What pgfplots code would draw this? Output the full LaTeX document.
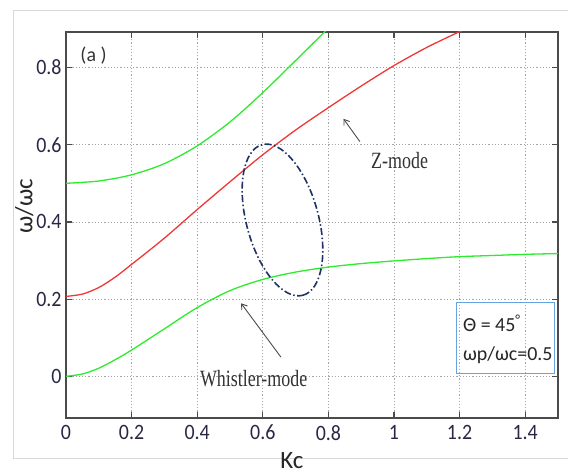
\documentclass[border=0pt]{standalone}
\usepackage{fontspec}
\setmainfont{Carlito}
\newfontfamily\tnr{Liberation Serif}
\usepackage{pgfplots}
\pgfplotsset{compat=1.18}
\usetikzlibrary{arrows.meta}
\definecolor{lgreen}{RGB}{45,235,45}
\definecolor{lred}{RGB}{240,55,55}
\definecolor{navy}{RGB}{30,50,100}
\definecolor{boxblue}{RGB}{100,165,225}
\definecolor{axgray}{RGB}{75,75,75}
\definecolor{ticktext}{RGB}{40,40,70}

\begin{document}
\begin{tikzpicture}
\useasboundingbox (-66bp,-56bp) rectangle (502bp,418bp);
\draw[black!15, line width=0.8bp] (-53bp,-40bp) rectangle (520bp,408bp);
\begin{axis}[
  at={(0,0)}, anchor=south west,
  scale only axis, width=492bp, height=386bp,
  xmin=0, xmax=1.5, ymin=-0.108, ymax=0.892,
  xtick={0,0.2,0.4,0.6,0.8,1,1.2,1.4},
  ytick={0,0.2,0.4,0.6,0.8},
  /pgf/number format/assume math mode=true,
  tick label style={font=\fontsize{20}{20}\selectfont, text=ticktext, yscale=1.1},
  xticklabel style={yshift=-3bp},
  yticklabel style={xshift=-1bp},
  axis line style={axgray, line width=1.2bp},
  tick style={axgray, line width=1.2bp},
  major tick length=6bp,
  tick align=inside,
  xtick pos=both, ytick pos=both,
  grid=major,
  major grid style={black!35, line width=0.8bp, dash pattern=on 1.2bp off 2bp},
  xlabel={Kc},
  ylabel={ω/ωc},
  label style={font=\fontsize{25}{25}\selectfont, text=black!85},
  xlabel style={at={(axis description cs:0.459,-0.131)}, anchor=base},
  ylabel style={at={(axis description cs:-0.085,0.548)}, anchor=center},
  clip=true,
]
% upper branch (green)
\addplot[lgreen, line width=1.3bp, smooth] coordinates {
  (0,0.500) (0.1,0.506) (0.2,0.522) (0.3,0.551) (0.4,0.597)
  (0.5,0.659) (0.6,0.735) (0.7,0.818) (0.8,0.902) (0.82,0.92)
};
% Z-mode (red)
\addplot[lred, line width=1.3bp, smooth] coordinates {
  (0,0.207) (0.05,0.213) (0.1,0.230) (0.15,0.257) (0.2,0.290) (0.3,0.358)
  (0.4,0.432) (0.5,0.504) (0.6,0.574) (0.7,0.638) (0.8,0.696)
  (0.9,0.752) (1.0,0.805) (1.1,0.852) (1.2,0.893) (1.25,0.912)
};
% Whistler-mode (green)
\addplot[lgreen, line width=1.3bp, smooth] coordinates {
  (0,0.000) (0.05,0.006) (0.1,0.021) (0.15,0.043) (0.2,0.068) (0.3,0.123)
  (0.4,0.178) (0.5,0.222) (0.6,0.251) (0.7,0.270) (0.8,0.283)
  (0.9,0.292) (1.0,0.299) (1.1,0.305) (1.2,0.310) (1.3,0.313)
  (1.4,0.316) (1.5,0.318)
};

\draw[navy, line width=1.6bp, dash pattern=on 7bp off 2.5bp on 1.5bp off 2.5bp,
      rotate around={-74.8:(axis cs:0.66,0.405)}]
  (axis cs:0.66,0.405) ellipse [x radius=78bp, y radius=36bp];

\draw[axgray, line width=0.9bp, -{Straight Barb[length=5bp,width=7bp]}]
  (axis cs:0.896,0.608) -- (axis cs:0.846,0.667);
\draw[axgray, line width=0.9bp, -{Straight Barb[length=5bp,width=7bp]}]
  (axis cs:0.655,0.050) -- (axis cs:0.534,0.189);
\node[font=\tnr\fontsize{18}{18}\selectfont, yscale=1.3, text=black!80]
  at (axis cs:1.017,0.559) {Z-mode};
\node[font=\tnr\fontsize{18}{18}\selectfont, yscale=1.3, text=black!80]
  at (axis cs:0.572,-0.005) {Whistler-mode};
\node[font=\fontsize{20}{20}\selectfont, text=black!80] at (axis cs:0.084,0.83) {(a )};

\draw[boxblue, line width=1bp] (axis cs:1.191,0.0085) rectangle (axis cs:1.488,0.192);
\node[anchor=west, inner sep=0pt, font=\fontsize{20}{20}\selectfont, text=black!85]
  at (axis cs:1.210,0.137) {Θ = 45\textsuperscript{°}};
\node[anchor=west, inner sep=0pt, font=\fontsize{20}{20}\selectfont, text=black!85]
  at (axis cs:1.210,0.054) {ωp/ωc=0.5};
\end{axis}
\end{tikzpicture}
\end{document}
